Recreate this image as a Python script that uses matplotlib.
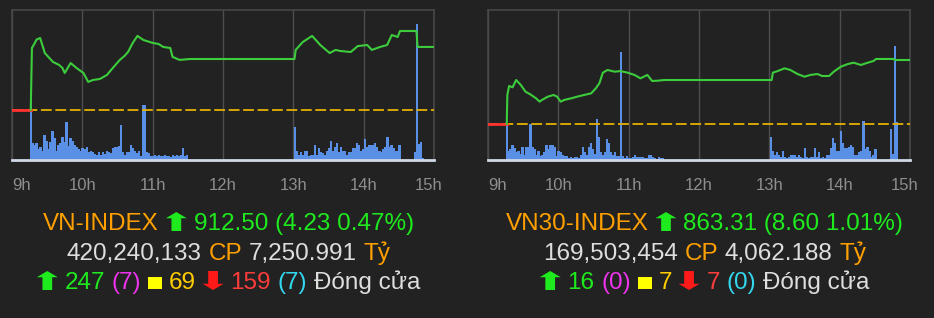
import matplotlib
matplotlib.use("Agg")
import matplotlib.pyplot as plt
from matplotlib.transforms import IdentityTransform, ScaledTranslation, Affine2D
from matplotlib.textpath import TextPath
from matplotlib.patches import PathPatch
from matplotlib.font_manager import FontProperties

BG = "#222222"
FONT = ["Liberation Sans", "DejaVu Sans"]
ORANGE = "#ffa000"
GREEN = "#1eea1e"
LIGHT = "#dedede"
MAGENTA = "#ee33ee"
YELLOW = "#ffff00"
GOLD = "#ffcc00"
RED = "#ff1a1a"
RED2 = "#ff3c3c"
CYAN = "#33d8ee"

HOURS = [9, 10, 11, 12, 13, 14, 15]
HOUR_LABELS = ["9h", "10h", "11h", "12h", "13h", "14h", "15h"]

# ---- VN-INDEX ----
VN_REF = 908.27
VN_YLIM = (904.91, 914.98)
VN_TIME = ["09:16", "09:17", "09:19", "09:21", "09:24", "09:28", "09:35", "09:40",
           "09:43", "09:45", "09:50", "09:55", "10:01", "10:05", "10:09", "10:15",
           "10:21", "10:26", "10:32", "10:36", "10:39", "10:43", "10:47", "10:52",
           "11:00", "11:05", "11:09", "11:15", "11:17", "11:23", "11:32", "13:01",
           "13:02", "13:08", "13:16", "13:23", "13:31", "13:36", "13:40", "13:49",
           "13:55", "14:03", "14:07", "14:14", "14:20", "14:24", "14:29", "14:31",
           "14:45", "14:46", "15:00"]
VN_PRICE = [908.27, 912.43, 912.70, 913.00, 913.10, 912.09, 911.49, 911.30,
            911.09, 910.75, 911.42, 911.09, 910.75, 910.15, 910.28, 910.35,
            910.62, 911.09, 911.63, 911.90, 912.16, 912.77, 913.24, 912.97,
            912.77, 912.70, 912.50, 912.43, 911.83, 911.63, 911.69, 911.69,
            912.30, 912.83, 913.24, 912.63, 912.09, 912.30, 912.23, 912.16,
            912.56, 912.63, 912.30, 912.50, 912.63, 913.30, 913.17, 913.57,
            913.57, 912.50, 912.50]
VN_VOL_ATO = 68
VN_VOL_AM = [17, 15, 17, 11, 13, 9, 25, 19, 11, 18, 29, 22, 9, 15, 17, 23, 18, 38,
             14, 22, 19, 15, 13, 11, 9, 12, 11, 13, 8, 9, 8, 6, 5, 8, 5, 8, 6, 9,
             8, 7, 12, 13, 13, 14, 35, 8, 5, 8, 8, 15, 12, 9, 7, 9, 4, 55, 55, 8,
             7, 4, 4, 5, 4, 5, 4, 4, 5, 4, 4, 3, 5, 4, 5, 4, 5, 12, 4, 5]
VN_VOL_PM = [33, 9, 5, 8, 5, 9, 9, 4, 5, 5, 15, 5, 12, 8, 7, 5, 9, 12, 19, 9, 13,
             17, 8, 13, 9, 9, 5, 8, 8, 12, 12, 17, 15, 9, 11, 21, 13, 15, 15, 15,
             17, 13, 9, 8, 11, 13, 23, 13, 15, 12, 9, 9, 15]
VN_VOL_ATC = [8, 136, 16, 18, 2]

# ---- VN30-INDEX ----
V30_REF = 854.71
V30_YLIM = (849.87, 870.03)
V30_TIME = ["09:16", "09:16.5", "09:18", "09:21", "09:24", "09:28", "09:32", "09:36",
            "09:41", "09:44", "09:46", "09:51", "09:56", "09:59", "10:02", "10:05",
            "10:11", "10:16", "10:22", "10:28", "10:32", "10:35", "10:38", "10:42",
            "10:48", "10:53", "10:59", "11:05", "11:10", "11:16", "11:20", "11:25",
            "11:30", "13:02", "13:03", "13:07", "13:13", "13:18", "13:24", "13:30",
            "13:35", "13:41", "13:45", "13:51", "13:55", "14:01", "14:07", "14:12",
            "14:18", "14:24", "14:29", "14:31", "14:46", "14:47", "15:00"]
V30_PRICE = [854.71, 858.61, 859.82, 859.64, 860.62, 859.95, 859.05, 858.70,
             858.16, 857.71, 857.94, 858.38, 858.61, 858.38, 857.71, 857.94,
             858.16, 858.38, 858.61, 858.83, 859.51, 860.18, 861.61, 861.97,
             861.74, 861.82, 861.61, 861.30, 860.85, 861.30, 860.49, 860.53,
             860.62, 860.62, 861.61, 861.82, 862.19, 861.97, 861.43, 861.07,
             861.30, 861.43, 861.16, 861.16, 861.74, 862.41, 862.77, 862.95,
             862.64, 862.95, 863.18, 863.45, 863.45, 863.31, 863.31]
V30_VOL_ATO = 35
V30_VOL_AM = [9, 11, 15, 12, 8, 9, 6, 13, 5, 13, 13, 36, 13, 11, 5, 9, 4, 5, 8, 15,
              11, 15, 15, 13, 4, 9, 8, 5, 4, 4, 2, 3, 2, 3, 3, 2, 5, 13, 8, 5, 13,
              17, 11, 6, 41, 23, 8, 5, 8, 21, 17, 8, 5, 8, 4, 4, 108, 4, 2, 4, 2, 2,
              3, 5, 3, 3, 3, 3, 2, 2, 5, 5, 3, 2, 1, 3, 2, 2]
V30_VOL_PM = [23, 9, 5, 8, 5, 3, 9, 3, 2, 3, 5, 5, 5, 3, 5, 3, 2, 12, 3, 2, 3, 3,
              12, 3, 8, 2, 3, 2, 5, 5, 12, 22, 17, 9, 9, 29, 17, 12, 12, 13, 15,
              13, 5, 5, 8, 9, 39, 11, 13, 9, 3, 5, 11]
V30_VOL_ATC = [31, 6, 114, 38]

# bar timing (decimal hours)
ATO_T = 9.267
AM_T0 = 9.292
PM_T0 = 13.026
ATC_T0 = 14.733
STEP = 0.0285

UP, DOWN, SQ = "\u2b06", "\u2b07", "\u25a0"
FS = 17.5
LINES_VN = [
    [("VN-INDEX", ORANGE), (UP, GREEN), ("912.50 (4.23 0.47%)", GREEN)],
    [("420,240,133", LIGHT), ("CP", ORANGE), ("7,250.991", LIGHT), ("T\u1ef7", ORANGE)],
    [(UP, GREEN), ("247", GREEN), ("(7)", MAGENTA), (SQ, YELLOW), ("69", GOLD),
     (DOWN, RED), ("159", RED2), ("(7)", CYAN), ("\u0110\u00f3ng c\u1eeda", LIGHT)],
]
LINES_V30 = [
    [("VN30-INDEX", ORANGE), (UP, GREEN), ("863.31 (8.60 1.01%)", GREEN)],
    [("169,503,454", LIGHT), ("CP", ORANGE), ("4,062.188", LIGHT), ("T\u1ef7", ORANGE)],
    [(UP, GREEN), ("16", GREEN), ("(0)", MAGENTA), (SQ, YELLOW), ("7", GOLD),
     (DOWN, RED), ("7", RED2), ("(0)", CYAN), ("\u0110\u00f3ng c\u1eeda", LIGHT)],
]


def hm(s):
    h, m = s.split(":")
    return int(h) + float(m) / 60


fig = plt.figure(figsize=(9.34, 3.18), dpi=100, facecolor=BG)
W, H = 934, 318


def draw_panel(left_px, ref, ylim, times, prices, ato, am, pm, atc):
    rect = [left_px / W, 1 - 160 / H, 422 / W, 150 / H]
    ax = fig.add_axes(rect, facecolor=BG)
    # volume bars
    xs = [ATO_T] + [AM_T0 + i * STEP for i in range(len(am))] \
        + [PM_T0 + i * STEP for i in range(len(pm))] \
        + [ATC_T0 + i * STEP for i in range(len(atc))]
    vs = [ato] + am + pm + atc
    ax.bar(xs, vs, width=STEP * 1.15, color="#5a8fe6", linewidth=0, zorder=2)
    ax.set_xlim(9, 15)
    ax.set_ylim(0, 150)
    ax.set_yticks([])
    ax.set_xticks(HOURS)
    ax.set_xticklabels(HOUR_LABELS, fontsize=12, color="#8e8e8e", family=FONT)
    ax.tick_params(axis="x", length=0, pad=13)
    ax.grid(axis="x", color="#4e4e4e", linewidth=1, zorder=0)
    ax.set_axisbelow(True)
    for s in ["top", "left", "right"]:
        ax.spines[s].set_color("#474747")
        ax.spines[s].set_linewidth(1.2)
    ax.spines["bottom"].set_color("#d0d8e8")
    ax.spines["bottom"].set_linewidth(2)
    labels = ax.get_xticklabels()
    labels[0].set_ha("left")
    labels[-1].set_transform(labels[-1].get_transform()
                             + ScaledTranslation(-0.05, 0, fig.dpi_scale_trans))

    # price line
    px = ax.twinx()
    px.set_ylim(*ylim)
    px.set_yticks([])
    for s in px.spines.values():
        s.set_visible(False)
    px.axhline(ref, color="#e6b000", linewidth=1.3, linestyle=(0, (6, 2)), zorder=3)
    px.plot([9, hm(times[0])], [ref, ref], color="#ff3030", linewidth=2, zorder=4)
    px.plot([hm(t) for t in times], prices, color="#3ccc3c", linewidth=1.5, zorder=5)
    px.set_xlim(9, 15)
    return ax


draw_panel(12, VN_REF, VN_YLIM, VN_TIME, VN_PRICE, VN_VOL_ATO, VN_VOL_AM, VN_VOL_PM, VN_VOL_ATC)
draw_panel(488, V30_REF, V30_YLIM, V30_TIME, V30_PRICE, V30_VOL_ATO, V30_VOL_AM, V30_VOL_PM, V30_VOL_ATC)

renderer = fig.canvas.get_renderer()
ARROW_W, ARROW_H = 21, 19
SQ_SIZE = 14


def text_width(s, size):
    t = fig.text(0, 0, s, fontsize=size, family=FONT, transform=IdentityTransform())
    w = t.get_window_extent(renderer).width
    t.remove()
    return w


def glyph_icon(ch, x, y, w, h, color):
    # the glyph outline stretched into a w x h pixel box sitting on the baseline
    tp = TextPath((0, 0), ch, size=1, prop=FontProperties(family="DejaVu Sans"))
    e = tp.get_extents()
    tr = Affine2D().translate(-e.x0, -e.y0).scale(w / e.width, h / e.height).translate(x, y)
    fig.add_artist(PathPatch(tp, transform=tr, facecolor=color, edgecolor="none"))


def colored_line(xc, y, parts):
    gap = text_width("x x", FS) - text_width("xx", FS)
    widths = []
    for s, c in parts:
        if s in (UP, DOWN):
            widths.append(ARROW_W)
        elif s == SQ:
            widths.append(SQ_SIZE)
        else:
            widths.append(text_width(s, FS))
    total = sum(widths) + gap * (len(parts) - 1)
    x = xc - total / 2
    for (s, c), w in zip(parts, widths):
        if s in (UP, DOWN):
            glyph_icon(s, x, y - 1, ARROW_W, ARROW_H, c)
        elif s == SQ:
            glyph_icon(s, x, y, SQ_SIZE, SQ_SIZE - 2, c)
        else:
            fig.text(x, y, s, color=c, fontsize=FS, family=FONT, va="baseline", ha="left",
                     transform=IdentityTransform())
        x += w + gap


for centre, lines in [(228.5, LINES_VN), (704.5, LINES_V30)]:
    for (base, parts) in zip([H - 230, H - 260, H - 289], lines):
        colored_line(centre, base, parts)

fig.savefig("out.png", dpi=100, facecolor=BG)
